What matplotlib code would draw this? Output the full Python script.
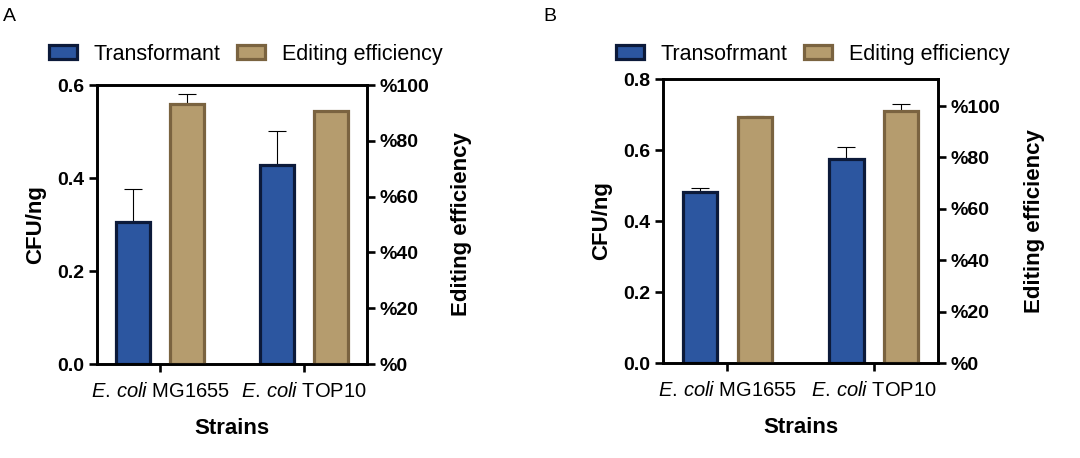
import matplotlib
matplotlib.use("Agg")
import matplotlib.pyplot as plt
from matplotlib.patches import Patch
from matplotlib.ticker import FuncFormatter
import numpy as np

plt.rcParams['font.family'] = ['Liberation Sans', 'DejaVu Sans']
plt.rcParams['mathtext.fontset'] = 'custom'
plt.rcParams['mathtext.it'] = 'Liberation Sans:italic'
plt.rcParams['mathtext.rm'] = 'Liberation Sans'

# data
strains = [r"$\it{E.\,coli}$ MG1655", r"$\it{E.\,coli}$ TOP10"]

cfu_a = [0.305, 0.428]
cfu_err_a = [0.071, 0.073]
eff_a = [93.2, 90.7]
eff_err_a = [3.6, 0.0]

cfu_b = [0.482, 0.575]
cfu_err_b = [0.011, 0.033]
eff_b = [95.7, 98.1]
eff_err_b = [0.5, 2.7]

BLUE = "#2c56a0"
BLUE_EDGE = "#0c1a3a"
TAN = "#b59c6e"
TAN_EDGE = "#7a6340"


def panel(rect, cfu, cfu_err, eff, eff_err, ymax, ystep, rmax, legend_names, legend_x, rpad):
    ax = fig.add_axes(rect)
    ax2 = ax.twinx()
    x = np.arange(len(strains))
    w = 0.236
    off = 0.1875

    ax.errorbar(x - off, cfu, yerr=[np.zeros(len(cfu)), cfu_err], fmt='none',
                ecolor='black', elinewidth=0.8, capsize=6.5, capthick=0.8, zorder=1)
    ax.bar(x - off, cfu, width=w, color=BLUE, edgecolor=BLUE_EDGE, linewidth=2.3, zorder=2)

    ax2.errorbar(x + off, eff, yerr=[np.zeros(len(eff)), eff_err], fmt='none',
                 ecolor='black', elinewidth=0.8, capsize=6.5, capthick=0.8, zorder=1)
    ax2.bar(x + off, eff, width=w, color=TAN, edgecolor=TAN_EDGE, linewidth=2.3, zorder=2)

    ax.set_xlim(-0.44, 1.44)
    ax.set_ylim(0, ymax)
    ax.set_yticks(np.arange(0, ymax + 1e-9, ystep))
    ax.yaxis.set_major_formatter(FuncFormatter(lambda v, p: f"{v:.1f}"))
    ax2.set_ylim(0, rmax)
    ax2.set_yticks(np.arange(0, 101, 20))
    ax2.yaxis.set_major_formatter(FuncFormatter(lambda v, p: f"%{int(round(v))}"))

    ax.set_xticks(x)
    ax.set_xticklabels(strains, fontsize=14.5)

    for a in (ax, ax2):
        for s in a.spines.values():
            s.set_linewidth(1.9)
        a.tick_params(axis='y', length=6, width=1.9, labelsize=14, pad=3)
        for lab in a.get_yticklabels():
            lab.set_fontweight('bold')
    ax.tick_params(axis='x', length=6, width=1.9, pad=7)

    ax.set_ylabel("CFU/ng", fontsize=16, fontweight='bold', labelpad=8)
    ax2.set_ylabel("Editing efficiency", fontsize=16, fontweight='bold', labelpad=rpad)
    ax.set_xlabel("Strains", fontsize=16, fontweight='bold', labelpad=12)

    handles = [Patch(facecolor=BLUE, edgecolor=BLUE_EDGE, linewidth=2.3),
               Patch(facecolor=TAN, edgecolor=TAN_EDGE, linewidth=2.3)]
    fig.legend(handles, legend_names, loc='center left', bbox_to_anchor=(legend_x, 0.881),
               ncol=2, frameon=False, fontsize=15.5, borderpad=0, borderaxespad=0,
               handlelength=1.3, handleheight=0.62, handletextpad=0.8, columnspacing=0.75)
    return ax, ax2


fig = plt.figure(figsize=(10.8, 4.58), dpi=100)

panel([0.0898, 0.2052, 0.25, 0.609], cfu_a, cfu_err_a, eff_a, eff_err_a,
      0.6, 0.2, 100, ["Transformant", "Editing efficiency"], 0.045, 16)
panel([0.614, 0.2074, 0.2546, 0.62], cfu_b, cfu_err_b, eff_b, eff_err_b,
      0.8, 0.2, 110.5, ["Transofrmant", "Editing efficiency"], 0.570, 17)

fig.text(0.003, 0.965, "A", fontsize=14, va='center', ha='left')
fig.text(0.503, 0.965, "B", fontsize=14, va='center', ha='left')

fig.savefig("out.png", dpi=100)
